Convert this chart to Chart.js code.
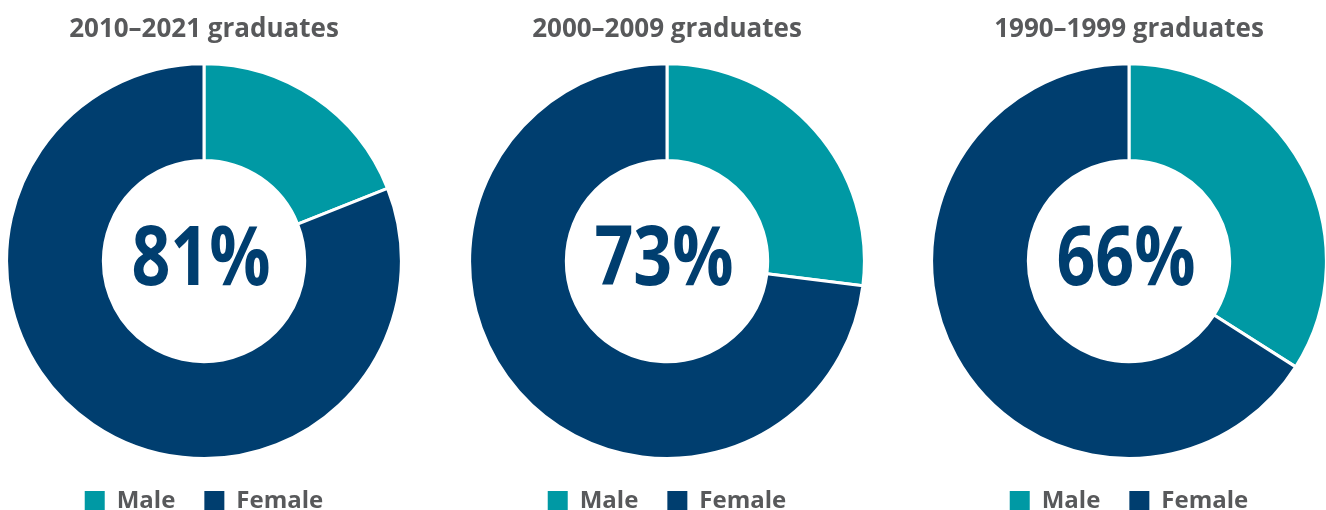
<!DOCTYPE html>
<html>
<head>
<meta charset="utf-8">
<title>Graduates by gender</title>
<script src="https://cdn.jsdelivr.net/npm/chart.js@4.4.1/dist/chart.umd.min.js"></script>
<style>
    html, body { margin: 0; padding: 0; background: #fff; overflow: hidden; }
    body { width: 1326px; height: 510px; position: relative; }
    .ring { position: absolute; top: 0; width: 398px; height: 523px; }
</style>
</head>
<body>
<div class="ring" style="left: 5px;"><canvas id="ring0"></canvas></div>
<div class="ring" style="left: 468px;"><canvas id="ring1"></canvas></div>
<div class="ring" style="left: 930px;"><canvas id="ring2"></canvas></div>

<script>
const cohorts = ['2010–2021 graduates', '2000–2009 graduates', '1990–1999 graduates'];
const genderLabels = ['Male', 'Female'];
const maleShare = [19, 27, 34];
const femaleShare = [81, 73, 66];

const TEAL = '#0099a4';
const NAVY = '#003e6f';
const GREY = '#58595b';

// prints the female share in the hole of each ring (squeezed a bit, narrow figures)
const centerLabel = {
    id: 'centerLabel',
    afterDraw(chart, args, opts) {
        const area = chart.chartArea;
        const ctx = chart.ctx;
        ctx.save();
        ctx.translate((area.left + area.right) / 2 - 3, (area.top + area.bottom) / 2 + 24);
        ctx.scale(0.82, 1);
        ctx.font = 'bold 83px "Open Sans", sans-serif';
        ctx.fillStyle = NAVY;
        ctx.textAlign = 'center';
        ctx.textBaseline = 'alphabetic';
        ctx.fillText(opts.text, 0, 0);
        ctx.restore();
    }
};

function drawRing(i) {
    new Chart(document.getElementById('ring' + i), {
        type: 'doughnut',
        data: {
            labels: genderLabels,
            datasets: [{
                data: [maleShare[i], femaleShare[i]],
                backgroundColor: [TEAL, NAVY],
                borderColor: '#ffffff',
                borderWidth: 3
            }]
        },
        options: {
            responsive: true,
            maintainAspectRatio: false,
            animation: false,
            cutout: '51%',
            plugins: {
                title: {
                    display: true,
                    text: cohorts[i],
                    color: GREY,
                    font: { family: '"Open Sans", sans-serif', size: 26, weight: 'bold' },
                    padding: { top: 14, bottom: 17 }
                },
                legend: {
                    position: 'bottom',
                    labels: {
                        color: GREY,
                        boxWidth: 20,
                        boxHeight: 20,
                        padding: 29,
                        font: { family: '"Open Sans", sans-serif', size: 24, weight: 'bold' },
                        generateLabels: function(chart) {
                            const items = Chart.overrides.doughnut.plugins.legend.labels.generateLabels(chart);
                            return items.map(function(item) { item.lineWidth = 0; return item; });
                        }
                    }
                },
                tooltip: { enabled: false },
                centerLabel: { text: femaleShare[i] + '%' }
            }
        },
        plugins: [centerLabel]
    });
}

for (let i = 0; i < cohorts.length; i++) {
    drawRing(i);
}
</script>
</body>
</html>
